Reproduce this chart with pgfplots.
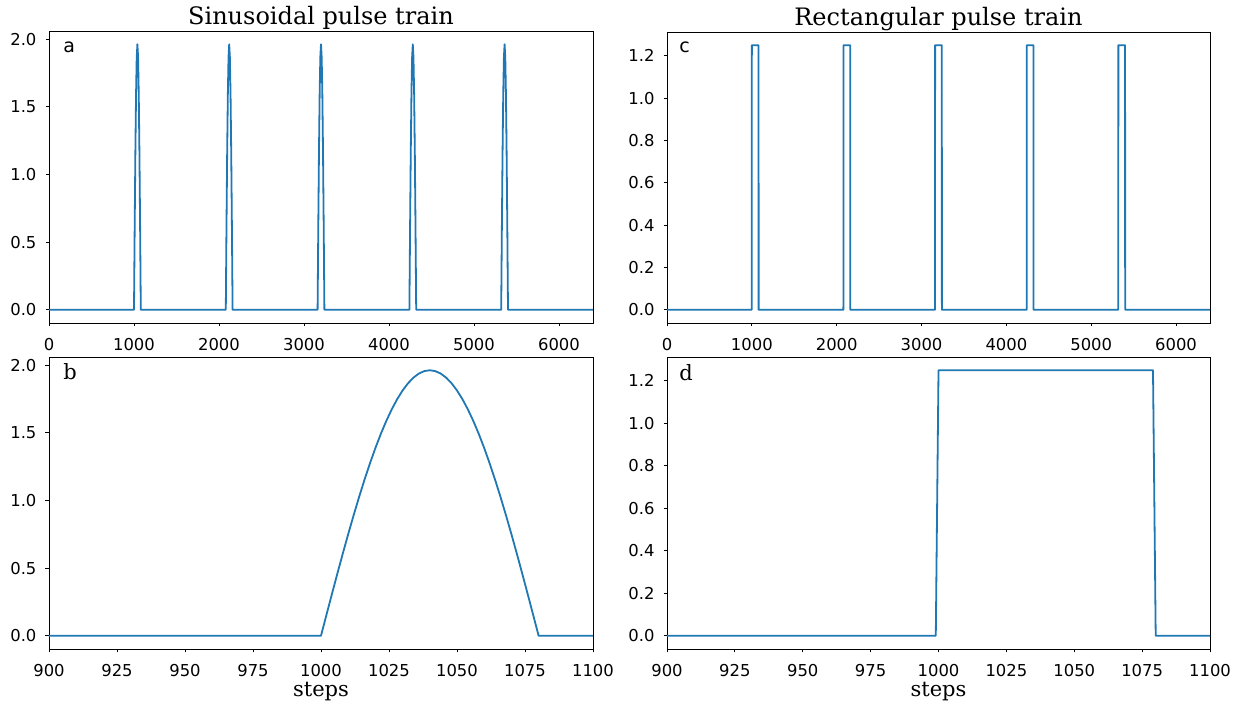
\documentclass[border=0pt]{standalone}
\usepackage{fontspec}
\setmainfont{DejaVu Serif}
\newfontfamily\dvsans{DejaVu Sans}
\usepackage{pgfplots}
\pgfplotsset{compat=1.18}
\definecolor{mplblue}{RGB}{31,119,180}

\pgfplotsset{
  panel/.style={
    scale only axis, anchor=south west,
    axis line style={line width=0.45pt},
    every tick/.style={black, line width=0.45pt},
    tick align=outside, major tick length=1.75pt,
    xtick pos=bottom, ytick pos=left,
    tick label style={font=\dvsans\fontsize{8.2}{9.6}\selectfont},
    /pgf/number format/assume math mode=true,
    scaled ticks=false,
    xticklabel style={/pgf/number format/1000 sep={}, yshift=-4.5pt, inner sep=1pt},
    yticklabel style={/pgf/number format/fixed, /pgf/number format/fixed zerofill,
                      /pgf/number format/precision=1, xshift=-1pt},
    every axis title/.style={at={(0.5,1)}, anchor=base, yshift=3pt,
                             font=\fontsize{12}{14}\selectfont},
    xlabel style={font=\fontsize{10.5}{12}\selectfont, at={(axis description cs:0.5,0)},
                  anchor=base, yshift=-24pt, inner sep=0pt},
  },
}
\tikzset{
  sig/.style={mplblue, line width=0.9pt, line join=round},
  sansletter/.style={anchor=base west, inner sep=0pt, font=\dvsans\fontsize{9.5}{11}\selectfont},
  serifletter/.style={anchor=base west, inner sep=0pt, font=\fontsize{10.5}{12}\selectfont},
}

\begin{document}
\begin{tikzpicture}
\useasboundingbox (0,0) rectangle (620.5pt,352pt);

% a: sinusoidal train
\begin{axis}[panel, at={(24.5pt,190.5pt)}, width=272pt, height=146pt,
  xmin=0, xmax=6400, ymin=-0.0982, ymax=2.0617,
  xtick={0,1000,...,6000}, ytick={0,0.5,1,1.5,2},
  title={Sinusoidal pulse train}]
\addplot[sig] coordinates {
 (0,0)
 (1000,0)(1008,0.6068)(1016,1.1541)(1024,1.5885)(1032,1.8674)(1040,1.9635)(1048,1.8674)(1056,1.5885)(1064,1.1541)(1072,0.6068)(1080,0)
 (2080,0)(2088,0.6068)(2096,1.1541)(2104,1.5885)(2112,1.8674)(2120,1.9635)(2128,1.8674)(2136,1.5885)(2144,1.1541)(2152,0.6068)(2160,0)
 (3160,0)(3168,0.6068)(3176,1.1541)(3184,1.5885)(3192,1.8674)(3200,1.9635)(3208,1.8674)(3216,1.5885)(3224,1.1541)(3232,0.6068)(3240,0)
 (4240,0)(4248,0.6068)(4256,1.1541)(4264,1.5885)(4272,1.8674)(4280,1.9635)(4288,1.8674)(4296,1.5885)(4304,1.1541)(4312,0.6068)(4320,0)
 (5320,0)(5328,0.6068)(5336,1.1541)(5344,1.5885)(5352,1.8674)(5360,1.9635)(5368,1.8674)(5376,1.5885)(5384,1.1541)(5392,0.6068)(5400,0)
 (6400,0)
};
\node[sansletter, xshift=7pt, yshift=-11pt] at (rel axis cs:0,1) {a};
\end{axis}

% b: one sinusoidal pulse
\begin{axis}[panel, at={(24.5pt,27.5pt)}, width=272pt, height=146pt,
  xmin=900, xmax=1100, ymin=-0.0982, ymax=2.0617,
  xtick={900,925,...,1100}, ytick={0,0.5,1,1.5,2},
  xlabel={steps}]
\addplot[sig] coordinates {
 (900,0)(1000,0)
 (1002,0.15405)(1004,0.30716)(1006,0.45837)(1008,0.60676)(1010,0.75140)
 (1012,0.89141)(1014,1.02593)(1016,1.15412)(1018,1.27519)(1020,1.38841)
 (1022,1.49306)(1024,1.58851)(1026,1.67416)(1028,1.74949)(1030,1.81404)
 (1032,1.86740)(1034,1.90925)(1036,1.93933)(1038,1.95745)(1040,1.96350)
 (1042,1.95745)(1044,1.93933)(1046,1.90925)(1048,1.86740)(1050,1.81404)
 (1052,1.74949)(1054,1.67416)(1056,1.58851)(1058,1.49306)(1060,1.38841)
 (1062,1.27519)(1064,1.15412)(1066,1.02593)(1068,0.89141)(1070,0.75140)
 (1072,0.60676)(1074,0.45837)(1076,0.30716)(1078,0.15405)(1080,0)
 (1100,0)
};
\node[serifletter, xshift=7pt, yshift=-11.5pt] at (rel axis cs:0,1) {b};
\end{axis}

% c: rectangular train
\begin{axis}[panel, at={(333.5pt,190.5pt)}, width=271.5pt, height=145.5pt,
  xmin=0, xmax=6400, ymin=-0.0625, ymax=1.3125,
  xtick={0,1000,...,6000}, ytick={0,0.2,0.4,0.6,0.8,1.0,1.2},
  title={Rectangular pulse train}]
\addplot[sig] coordinates {
 (0,0)
 (999,0)(1000,1.25)(1079,1.25)(1080,0)
 (2079,0)(2080,1.25)(2159,1.25)(2160,0)
 (3159,0)(3160,1.25)(3239,1.25)(3240,0)
 (4239,0)(4240,1.25)(4319,1.25)(4320,0)
 (5319,0)(5320,1.25)(5399,1.25)(5400,0)
 (6400,0)
};
\node[sansletter, xshift=6pt, yshift=-10.5pt] at (rel axis cs:0,1) {c};
\end{axis}

% d: one rectangular pulse
\begin{axis}[panel, at={(333.5pt,27.5pt)}, width=271.5pt, height=146pt,
  xmin=900, xmax=1100, ymin=-0.0625, ymax=1.3125,
  xtick={900,925,...,1100}, ytick={0,0.2,0.4,0.6,0.8,1.0,1.2},
  xlabel={steps}]
\addplot[sig] coordinates {
 (900,0)(999,0)(1000,1.25)(1079,1.25)(1080,0)(1100,0)
};
\node[serifletter, xshift=6pt, yshift=-12pt] at (rel axis cs:0,1) {d};
\end{axis}
\end{tikzpicture}
\end{document}
